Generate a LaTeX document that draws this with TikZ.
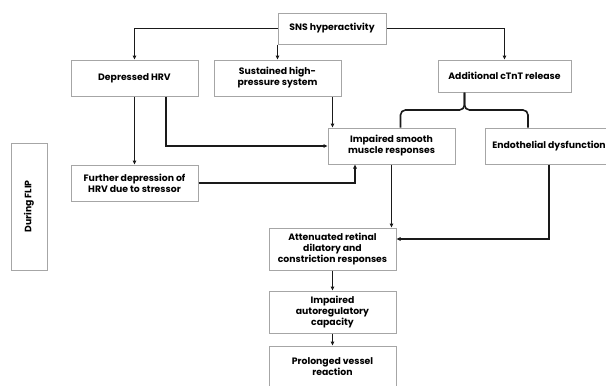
\documentclass[tikz,border=0pt]{standalone}
\usepackage{fontspec}
\setmainfont{Poppins}
\usetikzlibrary{arrows.meta}
\definecolor{boxgray}{HTML}{A6A6A6}
\definecolor{flowblack}{HTML}{1A1A1A}

\begin{document}
\begin{tikzpicture}[x=1pt, y=-1pt,
    box/.style={draw=boxgray, line width=1pt, align=center, inner sep=2pt,
      minimum width=127pt, minimum height=36pt, font=\bfseries\fontsize{9.3}{11}\selectfont},
    flow/.style={draw=flowblack, line width=1.6pt},
    arr/.style={flow, -{Triangle[length=4pt, width=3.5pt]}}]
        \useasboundingbox (0,0) rectangle (606,386);
        \clip (0,0) rectangle (606,386);

        % Top row
        \node[box, minimum width=108pt, minimum height=31pt] (sns) at (332,28.5) {SNS hyperactivity};
        \node[box] (hrv) at (134.5,78) {Depressed HRV};
        \node[box] (shp) at (277.5,78) {Sustained high-\\pressure system};
        \node[box, minimum width=133pt, minimum height=32pt] (ctnt) at (504.5,76) {Additional cTnT release};

        % Middle row
        \node[box] (ism) at (391.5,146) {Impaired smooth\\muscle responses};
        \node[box, minimum width=128pt] (endo) at (549,146) {Endothelial dysfunction};
        \node[box] (fdep) at (134.5,183) {Further depression of\\HRV due to stressor};
        \node[box, minimum width=127pt, rotate=90] (flip) at (29,206.5) {During FLIP};

        % Bottom column
        \node[box, minimum height=42pt] (att) at (332.5,249) {Attenuated retinal\\dilatory and\\constriction responses};
        \node[box, minimum height=42pt] (aut) at (332.5,312) {Impaired\\autoregulatory\\capacity};
        \node[box, minimum height=42pt] (pro) at (332.5,367) {Prolonged vessel\\reaction};

        % Arrows from SNS
        \draw[arr] (sns.west) -| (hrv.north);
        \draw[arr] (sns.south -| sns.west) -- (sns.west |- shp.north);
        \draw[arr] (sns.east) -| (ctnt.north);

        % Brace under cTnT
        \coordinate (tip) at ([xshift=-40pt]ctnt.south);
        \draw[flow, rounded corners=5pt] ([xshift=9pt]ism.north) -- ([xshift=9pt]ism.north |- 0,110) -- (tip |- 0,110) -- (tip);
        \draw[flow, rounded corners=5pt] ([xshift=-21pt]endo.north) -- ([xshift=-21pt]endo.north |- 0,110) -- (tip |- 0,110) -- (tip);

        % Into impaired smooth muscle
        \draw[arr] (hrv.south) -- (fdep.north);
        \draw[arr] ([xshift=31.5pt]hrv.south) |- (ism.west);
        \draw[arr] ([xshift=-9pt]shp.south east) -- ([xshift=-9pt]shp.south east |- ism.north);
        \draw[arr] (fdep.east) -| ([xshift=-36.5pt]ism.south);

        % Down to the retinal responses
        \draw[arr] (ism.south) -- (ism.south |- att.north);
        \draw[arr] (endo.south) |- ([yshift=10pt]att.east);
        \draw[arr] (att.south) -- (aut.north);
        \draw[arr] (aut.south) -- (pro.north);
      \end{tikzpicture}
\end{document}
